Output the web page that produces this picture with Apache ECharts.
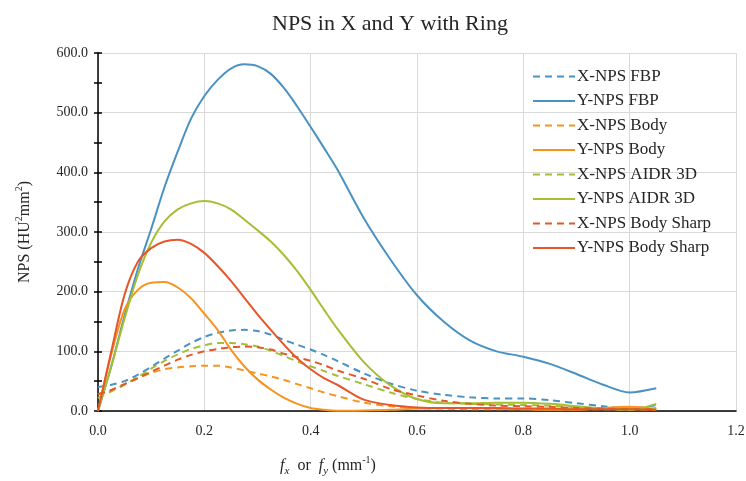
<!DOCTYPE html>
<html>
<head>
<meta charset="utf-8">
<script src="https://cdn.jsdelivr.net/npm/echarts@6/dist/echarts.min.js"></script>
<style>html,body{margin:0;padding:0;background:#fff;overflow:hidden;}#c{width:746px;height:481px;}</style>
</head>
<body>
<div id="c"></div>
<script>
const xs = [0,0.025,0.05,0.075,0.1,0.125,0.15,0.175,0.2,0.225,0.25,0.275,0.3,0.325,0.35,0.375,0.4,0.425,0.45,0.5,0.55,0.6,0.65,0.7,0.75,0.8,0.85,0.9,0.95,1.0,1.05];
const xFBP = [40,44,50,61,74,88,101,114,124,131,135,136,134,128,119,111,103,94,84,63,46,34,27,23,21,21,18,13,8,4,10];
const yFBP = [0,75,160,238,305,375,435,490,528,555,574,581,578,565,541,510,476,441,405,323,254,194,150,118,100,91,79,62,44,31,38];
const xBody = [28,35,45,55,64,70,73,75,76,76,73,68,63,58,52,45,38,31,25,14,8,5,4,3,3,3,3,3,3,3,2];
const yBody = [0,95,170,203,215,216,207,189,163,136,103,75,53,36,22,12,5,2,0.5,1,2,4,5,5,4,3,2,2,5,7,3];
const xAIDR = [22,33,44,57,71,84,95,104,110,114,114,112,108,101,92,83,75,67,59,45,31,20,14,12,11,10,9,6,4,2,5];
const yAIDR = [0,75,155,228,282,318,338,348,352,348,338,321,303,284,261,234,203,170,138,82,43,20,13,13,14,14,12,8,4,2,12];
const xSharp = [28,35,45,55,66,76,86,94,100,104,107,108,107,103,96,90,84,77,68,54,37,26,17,12,9,8,7,5,4,3,3];
const ySharp = [0,100,195,250,273,284,287,280,265,243,218,190,162,136,111,88,70,55,44,19,10,6,5,5,5,4,4,3,3,3,2];

const seriesNames = ['X-NPS FBP','Y-NPS FBP','X-NPS Body','Y-NPS Body','X-NPS AIDR 3D','Y-NPS AIDR 3D','X-NPS Body Sharp','Y-NPS Body Sharp'];
const seriesValues = [xFBP,yFBP,xBody,yBody,xAIDR,yAIDR,xSharp,ySharp];
const colors = ['#4A92C2','#4A92C2','#F7931E','#F7931E','#A5BF34','#A5BF34','#E5572A','#E5572A'];
const xTicks = {min:0, max:1.2, interval:0.2};
const yTicks = {min:0, max:600, interval:100};

const serif = '"Liberation Serif", "Times New Roman", serif';

const series = seriesNames.map((n,i)=>({
  name:n, type:'line', showSymbol:false, symbol:'none', smooth:0.3,
  xAxisIndex:0, yAxisIndex:0,
  data: xs.map((x,k)=>[x, seriesValues[i][k]]),
  lineStyle:{color:colors[i], width:2, type: i%2===0 ? [7,5] : 'solid'},
  itemStyle:{color:colors[i]},
  z: 3
}));

const chart = echarts.init(document.getElementById('c'), null, {renderer:'canvas', width:746, height:481});
chart.setOption({
  animation:false,
  backgroundColor:'#fff',
  title:{text:'NPS in X and Y with Ring', left:267, top:8,
    textStyle:{fontFamily:serif, fontSize:22, fontWeight:'normal', color:'#262626'}},
  grid:{left:98, top:53, width:638, height:358, containLabel:false, outerBoundsMode:'none'},
  legend:{
    orient:'vertical', left:527, top:63, itemWidth:42, itemHeight:14, itemGap:7.5,
    data:seriesNames,
    itemStyle:{opacity:0},
    textStyle:{fontFamily:serif, fontSize:17, lineHeight:17, color:'#262626', padding:[0,0,0,-3]}
  },
  xAxis:[{
    type:'value', min:xTicks.min, max:xTicks.max, interval:xTicks.interval,
    axisLine:{show:true, lineStyle:{color:'#000', width:1.5}},
    axisTick:{show:false},
    splitLine:{show:true, lineStyle:{color:'#d9d9d9', width:1}},
    axisLabel:{fontFamily:serif, fontSize:14, color:'#262626', margin:13, formatter:v=>v.toFixed(1)},
    name:'{i|f}{s|x}{t|  or  }{i|f}{s|y}{t| (mm}{p|-1}{t|)}',
    nameLocation:'middle', nameGap:44,
    nameTextStyle:{padding:[0,178,0,0],
      rich:{
        i:{fontFamily:serif, fontStyle:'italic', fontSize:16, color:'#262626', lineHeight:22},
        s:{fontFamily:serif, fontStyle:'italic', fontSize:11, color:'#262626', lineHeight:12, verticalAlign:'bottom'},
        t:{fontFamily:serif, fontSize:16, color:'#262626', lineHeight:22},
        p:{fontFamily:serif, fontSize:10, color:'#262626', lineHeight:12, verticalAlign:'top'}
      }}
  }],
  yAxis:[{
    type:'value', min:yTicks.min, max:yTicks.max, interval:yTicks.interval,
    axisLine:{show:true, lineStyle:{color:'#000', width:1.5}},
    axisTick:{show:true, length:4, lineStyle:{color:'#000', width:1.5}},
    minorTick:{show:true, splitNumber:2, length:4, lineStyle:{color:'#000', width:1.5}},
    splitLine:{show:true, lineStyle:{color:'#d9d9d9', width:1}},
    axisLabel:{fontFamily:serif, fontSize:14, color:'#262626', margin:10, formatter:v=>v.toFixed(1)},
    name:'{t|NPS (HU}{p|2}{t|mm}{p|2}{t|)}',
    nameLocation:'middle', nameGap:62,
    nameTextStyle:{rich:{
      t:{fontFamily:serif, fontSize:16, color:'#262626', lineHeight:22},
      p:{fontFamily:serif, fontSize:10, color:'#262626', lineHeight:12, verticalAlign:'top'}
    }}
  },{
    type:'value', position:'left', min:yTicks.min, max:yTicks.max, interval:yTicks.interval,
    axisLine:{show:false},
    axisTick:{show:true, inside:true, length:4, lineStyle:{color:'#000', width:1.5}},
    minorTick:{show:true, splitNumber:2, length:4, lineStyle:{color:'#000', width:1.5}},
    splitLine:{show:false}, axisLabel:{show:false}
  }],
  series: series
});
</script>
</body>
</html>
